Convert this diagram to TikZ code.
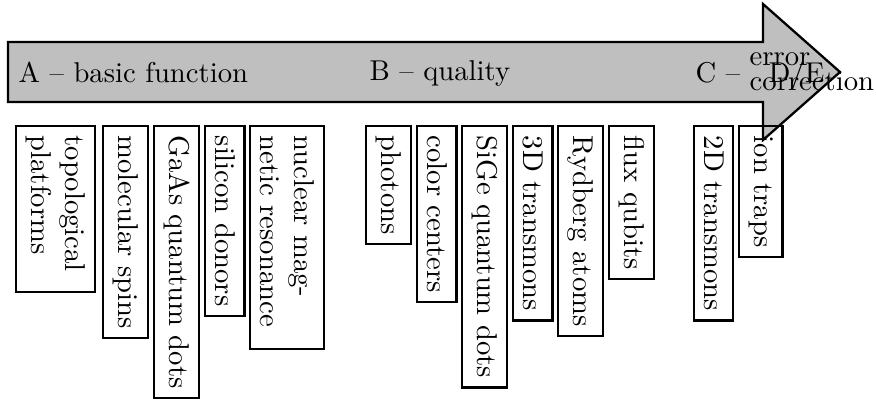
\documentclass[tikz,border=0pt]{standalone}
\begin{document}
\begin{tikzpicture}[x=0.349pt,y=-0.349pt,
  box/.style={draw, thick, rotate=-90, anchor=south west},
  lab/.style={anchor=base west}]
\useasboundingbox (0,0) rectangle (876,401);
\draw[thick, fill=lightgray] (8,42) -- (763,42) -- (763,4) -- (840,72) -- (763,140) -- (763,102) -- (8,102) -- cycle;
\node[lab] (la) at (8.5,82) {A -- basic function};
\node[lab] (lb) at (359.5,80) {B -- quality};
\node[lab] (lc) at (685.5,82) {C -- \raisebox{-2.8pt}{\parbox[b]{50pt}{\baselineskip=8.4pt error\\correction}}};
\node[lab] (ld) at (758.5,82) {D/E};
% group A
\node[box, text width=1.8cm, align=left] (topo) at (15,125) {topological platforms};
\node[box] (mol) at (102,125) {molecular spins};
\node[box] (gaas) at (153,125) {GaAs quantum dots};
\node[box] (si) at (204,125) {silicon donors};
\node[box, text width=2.5cm, align=left] (nmr) at (249,125) {nuclear mag-\\netic resonance};
% group B
\node[box] (ph) at (365,125) {photons};
\node[box] (cc) at (416,125) {color centers};
\node[box] (sige) at (461,125) {SiGe quantum dots};
\node[box] (t3d) at (512,125) {3D transmons};
\node[box] (ryd) at (557,125) {Rydberg atoms};
\node[box] (flux) at (608,125) {flux qubits};
% group C
\node[box] (t2d) at (693,125) {2D transmons};
\node[box] (ion) at (738,125) {ion traps};
\end{tikzpicture}
\end{document}
